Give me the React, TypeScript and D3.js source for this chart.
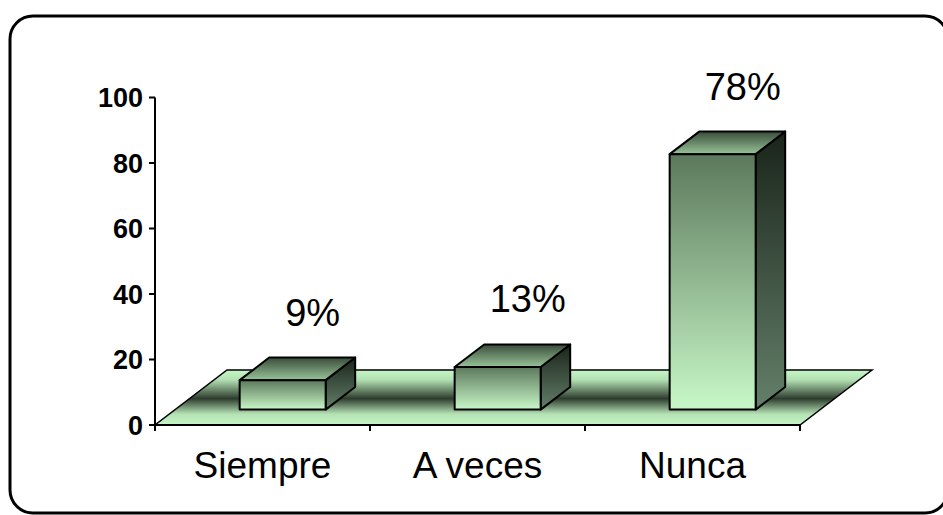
import React from "react";
import * as d3 from "d3";

const categories = ["Siempre", "A veces", "Nunca"];
const values = [9, 13, 78];
const valueLabels = ["9%", "13%", "78%"];
const yTicks = [0, 20, 40, 60, 80, 100];

const W = 943;
const H = 515;
const FONT = "'Liberation Sans', Arial, sans-serif";

export default function App() {
  const x = d3.scaleBand<string>().domain(categories).range([155, 800]).paddingInner(0).paddingOuter(0);
  const y = d3.scaleLinear().domain([0, 100]).range([425, 97.5]);
  const y0 = y(0);
  const pxPerUnit = y(0) - y(1);

  // depth geometry of the 3D floor
  const depthDx = 72;
  const depthDy = -55;
  const frontF = 0.28;
  const backF = 0.69;
  const fdx = depthDx * frontF;
  const fdy = depthDy * frontF;
  const bdx = depthDx * (backF - frontF);
  const bdy = depthDy * (backF - frontF);
  const barW = x.bandwidth() * 0.4;

  const [x0, x1] = x.range();
  const floorPath = `M${x0},${y0} L${x1},${y0} L${x1 + depthDx},${y0 + depthDy} L${x0 + depthDx},${y0 + depthDy} Z`;

  const bars = categories.map((c, i) => {
    const cx = (x(c) as number) + x.bandwidth() / 2 + fdx;
    const left = cx - barW / 2;
    const right = cx + barW / 2;
    const bottom = y0 + fdy;
    const top = bottom - values[i] * pxPerUnit;
    return { c, i, left, right, bottom, top, cx };
  });

  return (
    <svg
      width={W}
      height={H}
      style={{ position: "absolute", left: 0, top: 0, display: "block", background: "#fff" }}
      fontFamily={FONT}
    >
      <defs>
        <linearGradient id="floorGrad" x1="0" y1="0" x2="0" y2="1">
          <stop offset="0" stopColor="#c6f6c6" />
          <stop offset="0.18" stopColor="#b2e0b2" />
          <stop offset="0.52" stopColor="#2e3c2e" />
          <stop offset="0.8" stopColor="#b4e2b4" />
          <stop offset="1" stopColor="#c6f6c6" />
        </linearGradient>
        <linearGradient id="frontGrad" x1="0" y1="0" x2="0" y2="1">
          <stop offset="0" stopColor="#5c785c" />
          <stop offset="1" stopColor="#c8f8c8" />
        </linearGradient>
        <linearGradient id="topGrad" x1="0" y1="0" x2="0" y2="1">
          <stop offset="0" stopColor="#3a4c3a" />
          <stop offset="1" stopColor="#98c498" />
        </linearGradient>
        <linearGradient id="sideGrad" x1="0" y1="0" x2="0" y2="1">
          <stop offset="0" stopColor="#1a241a" />
          <stop offset="1" stopColor="#64806a" />
        </linearGradient>
      </defs>

      {/* outer rounded frame */}
      <rect x={10} y={16} width={938} height={497} rx={23} ry={23} fill="none" stroke="#000" strokeWidth={3} />

      {/* floor */}
      <path d={floorPath} fill="url(#floorGrad)" stroke="#000" strokeWidth={1.5} strokeLinejoin="miter" />

      {/* bars */}
      {bars.map((b) => (
        <g key={b.c} stroke="#000" strokeWidth={2} strokeLinejoin="round">
          <path
            d={`M${b.right},${b.bottom} L${b.right + bdx},${b.bottom + bdy} L${b.right + bdx},${b.top + bdy} L${b.right},${b.top} Z`}
            fill="url(#sideGrad)"
          />
          <path
            d={`M${b.left},${b.top} L${b.left + bdx},${b.top + bdy} L${b.right + bdx},${b.top + bdy} L${b.right},${b.top} Z`}
            fill="url(#topGrad)"
          />
          <rect x={b.left} y={b.top} width={b.right - b.left} height={b.bottom - b.top} fill="url(#frontGrad)" />
        </g>
      ))}

      {/* value labels */}
      {bars.map((b) => (
        <text
          key={"v" + b.c}
          x={b.cx + 30}
          y={b.top + bdy - 32}
          textAnchor="middle"
          fontSize={38}
          fill="#000"
        >
          {valueLabels[b.i]}
        </text>
      ))}

      {/* y axis */}
      <line x1={155} x2={155} y1={y(100)} y2={y0} stroke="#000" strokeWidth={2} />
      {yTicks.map((t) => (
        <g key={"yt" + t}>
          <line x1={149} x2={155} y1={y(t)} y2={y(t)} stroke="#000" strokeWidth={2} />
          <text x={143} y={y(t)} dy="0.36em" textAnchor="end" fontSize={27} fontWeight="bold" fill="#000">
            {t}
          </text>
        </g>
      ))}

      {/* x axis */}
      <line x1={x0} x2={x1} y1={y0} y2={y0} stroke="#000" strokeWidth={2} />
      {[...categories.map((c) => x(c) as number), x1].map((tx, i) => (
        <line key={"xt" + i} x1={tx} x2={tx} y1={y0} y2={y0 + 6} stroke="#000" strokeWidth={2} />
      ))}
      {categories.map((c) => (
        <text
          key={"xl" + c}
          x={(x(c) as number) + x.bandwidth() / 2}
          y={478}
          textAnchor="middle"
          fontSize={37}
          fill="#000"
        >
          {c}
        </text>
      ))}
    </svg>
  );
}
